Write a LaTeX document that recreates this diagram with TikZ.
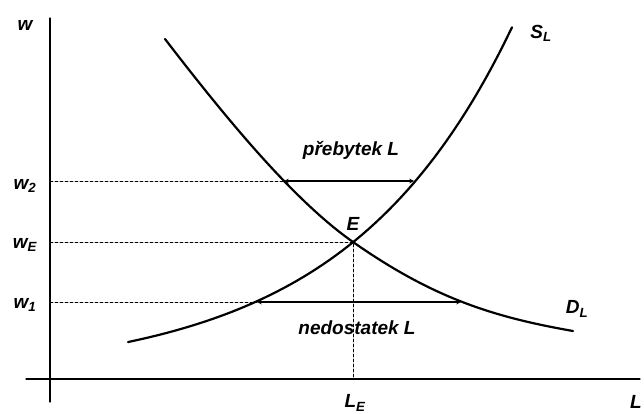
\documentclass[tikz,border=0pt]{standalone}
\usepackage{fontspec}
\setmainfont{Liberation Sans}
\begin{document}
\begin{tikzpicture}[x=1pt,y=-1pt,line join=round,line cap=round,>=stealth,
	lbl/.style={font=\fontsize{19}{22}\selectfont\bfseries\itshape,inner sep=1pt}]
		\useasboundingbox (0,0) rectangle (644,414);
		\coordinate (Ytop) at (50,18);
		\coordinate (Ybot) at (50,402);
		\coordinate (Xl) at (26,379);
		\coordinate (Xr) at (640,379);
		\coordinate (E) at (353,242);
		\coordinate (LE) at (353,379);
		\coordinate (W2) at (50,181);
		\coordinate (WE) at (50,242);
		\coordinate (W1) at (50,302);
		\coordinate (W2d) at (284,181);
		\coordinate (W2s) at (414,181);
		\coordinate (W1s) at (257,302);
		\coordinate (W1d) at (461,302);
		\coordinate (Dtop) at (165,39);
		\coordinate (Dend) at (573,331);
		\draw[line width=1.2pt] (Ybot) -- (Ytop) (Xl) -- (Xr);
		% demand
		\draw[line width=2.2pt] (Dtop) .. controls (225,117) and (293,200) .. (E)
			.. controls (433,298) and (493,317) .. (Dend);
		% supply
		\draw[line width=2.2pt,domain=128:512,samples=60] plot (\x,{377-16.23*exp(0.006*\x)});
		\draw[densely dashed,line width=0.6pt] (W2) -- (W2d) (WE) -- (E) -- (LE) (W1) -- (W1s);
		\draw[<->,line width=1.1pt] (W2d) -- (W2s);
		\draw[<->,line width=1.1pt] (W1s) -- (W1d);
		\node[lbl] (w) at (25,25) {w};
		\node[lbl] (w2) at (25,186) {w\textsubscript{2}};
		\node[lbl] (wE) at (25,245) {w\textsubscript{E}};
		\node[lbl] (w1) at (25,305) {w\textsubscript{1}};
		\node[lbl] (Lax) at (636,402) {L};
		\node[lbl] (LEl) at (355,403) {L\textsubscript{E}};
		\node[lbl] (El) at (353,224) {E};
		\node[lbl] (SL) at (541,33) {S\textsubscript{L}};
		\node[lbl] (DL) at (577,309) {D\textsubscript{L}};
		\node[lbl] (surplus) at (351,150) {přebytek L};
		\node[lbl] (shortage) at (357,328) {nedostatek L};
	\end{tikzpicture}
\end{document}
